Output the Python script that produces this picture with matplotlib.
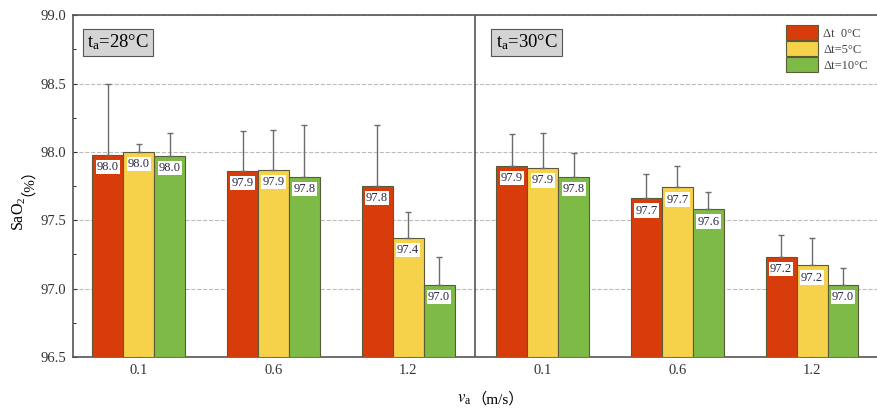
import matplotlib.pyplot as plt
import numpy as np

plt.rcParams['font.family'] = ['Liberation Serif', 'Noto Sans CJK SC', 'DejaVu Serif']
plt.rcParams['mathtext.fontset'] = 'stix'

speeds = ['0.1', '0.6', '1.2', '0.1', '0.6', '1.2']
series = ['Δt  0°C', 'Δt=5°C', 'Δt=10°C']
colors = ['#D93C0B', '#F6D24A', '#7EBB46']

# mean SaO2, left half t_a=28, right half t_a=30
dt0 = [97.98, 97.86, 97.75, 97.90, 97.66, 97.23]
dt5 = [98.00, 97.87, 97.37, 97.88, 97.74, 97.17]
dt10 = [97.97, 97.82, 97.03, 97.82, 97.58, 97.03]
# top of error bar
err0 = [98.50, 98.15, 98.20, 98.13, 97.84, 97.39]
err5 = [98.06, 98.16, 97.56, 98.14, 97.90, 97.37]
err10 = [98.14, 98.20, 97.23, 97.99, 97.71, 97.15]

means = [dt0, dt5, dt10]
tops = [err0, err5, err10]

fig = plt.figure(figsize=(8.78, 4.09), dpi=100)
ax = fig.add_axes([0.083, 0.127, 0.917, 0.836])

x = np.arange(len(speeds))
w = 0.23
for i in range(3):
    m = np.array(means[i])
    up = np.array(tops[i]) - m
    ax.bar(x + (i - 1) * w, m - 96.5, w, bottom=96.5, color=colors[i],
           edgecolor='#5a5a3a', linewidth=0.8, label=series[i], zorder=3,
           yerr=[np.zeros_like(up), up],
           error_kw=dict(ecolor='#6b6b6b', elinewidth=1, capsize=2.5, capthick=1))
    for xi, v in zip(x + (i - 1) * w, m):
        ax.text(xi, v - 0.045, '%.1f' % v, ha='center', va='top', fontsize=9, color='#2a2a44',
                zorder=5, bbox=dict(facecolor='white', edgecolor='none', pad=0.8))

ax.set_ylim(96.5, 99.0)
ax.set_xlim(-0.49, 5.49)
yt = np.arange(96.5, 99.01, 0.5)
ax.set_yticks(yt)
ax.set_yticklabels(['%.1f' % t for t in yt])
ax.set_yticks(np.arange(96.75, 99.0, 0.5), minor=True)
ax.set_xticks(x)
ax.set_xticklabels(speeds)
ax.tick_params(axis='both', labelsize=10.5, direction='in', colors='#333333', length=3, pad=5)
ax.tick_params(axis='y', which='minor', length=2, direction='in')
ax.grid(axis='y', linestyle='--', color='#bbbbbb', linewidth=0.8, zorder=0)
ax.axvline(2.5, color='#555555', linewidth=1.2, zorder=4)
for s in ax.spines.values():
    s.set_color('#555555')
    s.set_linewidth(1.2)
ax.spines['right'].set_visible(False)

box = dict(facecolor='#d4d4d4', edgecolor='#555555', linewidth=0.8, pad=3)
ax.text(0.018, 0.92, '$\\mathregular{t_a}$=28°C', transform=ax.transAxes, fontsize=13.5,
        va='center', bbox=box, zorder=6)
ax.text(0.525, 0.92, '$\\mathregular{t_a}$=30°C', transform=ax.transAxes, fontsize=13.5,
        va='center', bbox=box, zorder=6)

leg = ax.legend(loc='upper right', frameon=False, fontsize=9, handlelength=2.6, handleheight=1.45,
                labelspacing=0.1, borderaxespad=0.4, handletextpad=0.4)
for t in leg.get_texts():
    t.set_color('#444444')

# axis titles, split so the fullwidth brackets come from a CJK font
fig.text(0.022, 0.52, '$\\mathregular{SaO_2}$', rotation=90, ha='center', va='top', fontsize=11.5)
fig.text(0.022, 0.52, '（%）', rotation=90, ha='center', va='bottom', fontsize=11)
fig.text(0.537, 0.025, '$v_\\mathregular{a}$', ha='right', va='center', fontsize=12)
fig.text(0.537, 0.025, '（m/s）', ha='left', va='center', fontsize=11)

fig.savefig('out.png', dpi=100)
